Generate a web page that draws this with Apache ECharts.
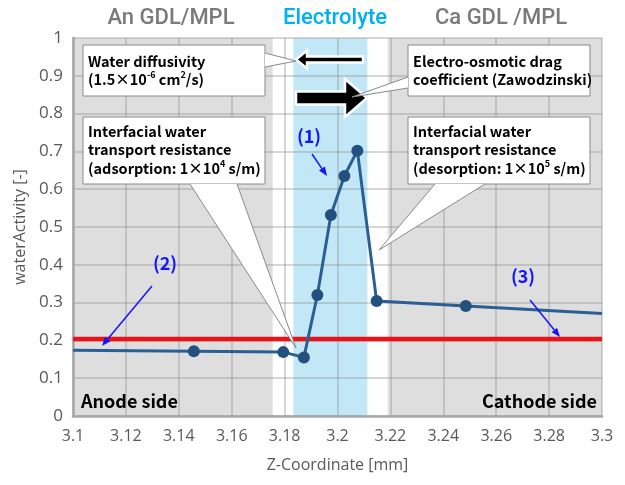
<!DOCTYPE html>
<html>
<head>
<meta charset="utf-8">
<script src="https://cdn.jsdelivr.net/npm/echarts@6/dist/echarts.min.js"></script>
<style>
  html, body { margin: 0; padding: 0; background: #ffffff; }
  #chart { width: 625px; height: 485px; }
</style>
</head>
<body>
<div id="chart"></div>
<script>
// Water activity profile across the membrane electrode assembly
const zCoord = [3.1, 3.1457, 3.1795, 3.1873, 3.1924, 3.1975, 3.2026, 3.2075, 3.2148, 3.2485, 3.3];
const waterActivity = [0.174, 0.171, 0.169, 0.155, 0.320, 0.532, 0.635, 0.702, 0.304, 0.291, 0.271];
const markedPoint = [false, true, true, true, true, true, true, true, true, true, false];

// Horizontal reference level
const referenceActivity = 0.204;

// Layers (z range in mm)
const layerNames = ['An GDL/MPL', 'Electrolyte', 'Ca GDL /MPL'];
const layerStart = [3.1, 3.1833, 3.219];
const layerEnd = [3.1755, 3.2113, 3.3];

const layerFill = ['#dedede', '#c2e8f8', '#dedede'];
const layerTitleColor = ['#7a7a7a', '#00b0f0', '#7a7a7a'];
const layerTitleX = [171, 335, 501];

const boxFont = '"Noto Sans CJK JP", "Noto Sans", sans-serif';
const axisFont = '"Open Sans", "Noto Sans", sans-serif';

function boxText(x, y, text) {
  return {
    type: 'text', x: x, y: y, z: 102,
    style: {
      text: text,
      fill: '#000000',
      rich: {
        b: { fontFamily: boxFont, fontWeight: 'bold', fontSize: 14.5, lineHeight: 18.5, fill: '#000' },
        s: { fontFamily: boxFont, fontWeight: 'bold', fontSize: 9, lineHeight: 10, verticalAlign: 'top', fill: '#000' }
      }
    }
  };
}

// Callout box with a wedge pointing at tip
function callout(box, base1, base2, tip, textEls) {
  const stroke = '#8a8a8a';
  return [
    { type: 'rect', z: 100, shape: { x: box[0], y: box[1], width: box[2], height: box[3] },
      style: { fill: '#ffffff', stroke: stroke, lineWidth: 1 } },
    { type: 'polygon', z: 100, shape: { points: [base1, tip, base2] },
      style: { fill: '#ffffff', stroke: null } },
    { type: 'polyline', z: 101, shape: { points: [base1, tip, base2] },
      style: { fill: null, stroke: stroke, lineWidth: 1 } }
  ].concat(textEls);
}

function thinArrow(x1, y1, x2, y2, color) {
  const a = Math.atan2(y2 - y1, x2 - x1);
  const L = 9, W = 3.5;
  const bx = x2 - L * Math.cos(a), by = y2 - L * Math.sin(a);
  const nx = -Math.sin(a) * W, ny = Math.cos(a) * W;
  return [
    { type: 'line', z: 103, shape: { x1: x1, y1: y1, x2: bx, y2: by },
      style: { stroke: color, lineWidth: 1.5 } },
    { type: 'polygon', z: 103, shape: { points: [[x2, y2], [bx + nx, by + ny], [bx - nx, by - ny]] },
      style: { fill: color } }
  ];
}

function blockArrow(points) {
  return { type: 'polygon', z: 99, shape: { points: points },
    style: { fill: '#000000', stroke: '#ffffff', lineWidth: 2.5, lineJoin: 'miter' } };
}

const graphics = [];

// Layer titles above the plot
layerNames.forEach(function (name, i) {
  graphics.push({
    type: 'text', x: layerTitleX[i], y: 18, z: 100,
    style: { text: name, fill: layerTitleColor[i], font: '500 22px Roboto, sans-serif',
      textAlign: 'center', textVerticalAlign: 'middle' }
  });
});

// Flux arrows in the electrolyte
graphics.push(blockArrow([[296, 59.5], [307, 50.5], [307, 56.5], [363, 56.5], [363, 62.5], [307, 62.5], [307, 68.5]]));
graphics.push(blockArrow([[296, 91.5], [345, 91.5], [345, 79], [367, 98], [345, 117], [345, 104.5], [296, 104.5]]));

// Callouts
Array.prototype.push.apply(graphics, callout([83, 45, 182, 51], [265, 53], [265, 67], [296, 61],
  [boxText(88, 52, '{b|Water diffusivity}\n{b|(1.5×10}{s|-6}{b| cm}{s|2}{b|/s)}')]));
Array.prototype.push.apply(graphics, callout([83, 117, 182, 67], [190, 184], [237, 184], [296, 348],
  [boxText(88, 122, '{b|Interfacial water}\n{b|transport resistance}\n{b|(adsorption: 1×10}{s|4}{b| s/m)}')]));
Array.prototype.push.apply(graphics, callout([408, 45, 182, 51], [408, 77], [408, 88], [352, 97],
  [boxText(413, 52, '{b|Electro-osmotic drag}\n{b|coefficient (Zawodzinski)}')]));
Array.prototype.push.apply(graphics, callout([408, 117, 182, 67], [435, 184], [485, 184], [379, 250],
  [boxText(413, 122, '{b|Interfacial water}\n{b|transport resistance}\n{b|(desorption: 1×10}{s|5}{b| s/m)}')]));

// Region markers
const markColor = '#1414ff';
[['(1)', 309, 136], ['(2)', 165, 263], ['(3)', 523, 276]].forEach(function (m) {
  graphics.push({ type: 'text', x: m[1], y: m[2], z: 103,
    style: { text: m[0], fill: markColor, font: 'bold 18px "Noto Sans CJK JP", sans-serif',
      textAlign: 'center', textVerticalAlign: 'middle' } });
});
Array.prototype.push.apply(graphics, thinArrow(312, 154, 327, 176, markColor));
Array.prototype.push.apply(graphics, thinArrow(152, 286, 102, 346, markColor));
Array.prototype.push.apply(graphics, thinArrow(530, 300, 560, 337, markColor));

// Side labels
graphics.push({ type: 'text', x: 81, y: 401, z: 103,
  style: { text: 'Anode side', fill: '#000', font: 'bold 18px "Noto Sans CJK JP", sans-serif',
    textAlign: 'left', textVerticalAlign: 'middle' } });
graphics.push({ type: 'text', x: 597, y: 401, z: 103,
  style: { text: 'Cathode side', fill: '#000', font: 'bold 18px "Noto Sans CJK JP", sans-serif',
    textAlign: 'right', textVerticalAlign: 'middle' } });

const chart = echarts.init(document.getElementById('chart'), null, { renderer: 'canvas' });

chart.setOption({
  animation: false,
  backgroundColor: '#ffffff',
  grid: { left: 73, right: 23, top: 38, bottom: 69, show: true, backgroundColor: '#ffffff', borderWidth: 0 },
  xAxis: {
    type: 'value', min: 3.1, max: 3.3, interval: 0.02, z: 3,
    name: 'Z-Coordinate [mm]', nameLocation: 'middle', nameGap: 41,
    nameTextStyle: { color: '#595959', fontSize: 16, fontFamily: axisFont },
    axisLine: { show: true, lineStyle: { color: '#a6a6a6', width: 2.5 } },
    axisTick: { show: false },
    axisLabel: { color: '#595959', fontSize: 16, fontFamily: axisFont, margin: 12,
      formatter: function (v) { return String(parseFloat(v.toFixed(2))); } },
    splitLine: { show: true, lineStyle: { color: 'rgba(140,140,140,0.36)', width: 2 } }
  },
  yAxis: {
    type: 'value', min: 0, max: 1, interval: 0.1, z: 3,
    name: 'waterActivity [-]', nameLocation: 'middle', nameGap: 45,
    nameTextStyle: { color: '#595959', fontSize: 16, fontFamily: axisFont },
    axisLine: { show: true, lineStyle: { color: '#a6a6a6', width: 2.5 } },
    axisTick: { show: false },
    axisLabel: { color: '#595959', fontSize: 17, fontFamily: axisFont, margin: 10,
      formatter: function (v) { return String(parseFloat(v.toFixed(1))); } },
    splitLine: { show: true, lineStyle: { color: 'rgba(140,140,140,0.36)', width: 2 } }
  },
  series: [
    {
      type: 'custom', z: 1, silent: true,
      data: layerStart.map(function (s, i) { return [s, layerEnd[i], i]; }),
      encode: { x: [0, 1] },
      renderItem: function (params, api) {
        const p0 = api.coord([api.value(0), 1]);
        const p1 = api.coord([api.value(1), 0]);
        return { type: 'rect',
          shape: { x: p0[0], y: p0[1], width: p1[0] - p0[0], height: p1[1] - p0[1] },
          style: { fill: layerFill[api.value(2)] } };
      }
    },
    {
      type: 'line', z: 4, silent: true, symbol: 'none',
      data: [[3.1, referenceActivity], [3.3, referenceActivity]],
      lineStyle: { color: '#e8141a', width: 4.5 }
    },
    {
      type: 'line', z: 5, silent: true, symbol: 'circle',
      data: zCoord.map(function (x, i) {
        return { value: [x, waterActivity[i]], symbolSize: markedPoint[i] ? 12 : 0 };
      }),
      lineStyle: { color: '#2a5f95', width: 3 },
      itemStyle: { color: '#24507f' }
    }
  ],
  graphic: graphics
});
</script>
</body>
</html>
